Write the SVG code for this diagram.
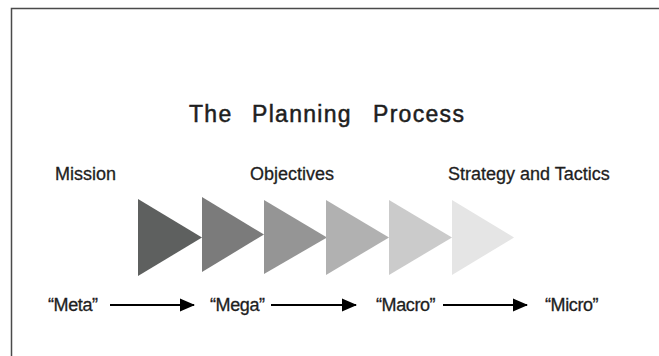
<svg xmlns="http://www.w3.org/2000/svg" width="659" height="356" viewBox="0 0 659 356">
<style>
.t{font-family:"Liberation Sans",Arial,sans-serif;fill:#1e1e1e;stroke:#1e1e1e;stroke-width:0.3}
.title{font-size:23px;letter-spacing:1.3px;stroke-width:0.5}
.lbl{font-size:18px}
.q{font-size:18px;letter-spacing:-0.4px}
.arr{stroke:#000;stroke-width:2.2;fill:none;marker-end:url(#ah)}
</style>
<defs>
<marker id="ah" markerWidth="7" markerHeight="6" refX="6.5" refY="3" orient="auto" markerUnits="strokeWidth">
<path d="M0,0 L7,3 L0,6 Z" fill="#000"/>
</marker>
</defs>
<rect width="659" height="356" fill="#fff"/>
<path d="M11.5,356 V8.5 H659" fill="none" stroke="#4a4a4a" stroke-width="1.5"/>
<g id="title"><text class="t title" y="122"><tspan x="189">The</tspan><tspan x="252">Planning</tspan><tspan x="373">Process</tspan></text></g>
<g id="mission"><text class="t lbl" x="55" y="180">Mission</text></g>
<g id="objectives"><text class="t lbl" x="250" y="180">Objectives</text></g>
<g id="strategy"><text class="t lbl" x="448" y="180">Strategy and Tactics</text></g>
<g id="stages">
<polygon points="138,199 202,237.5 138,276" fill="#5e605f"/>
<polygon points="202,197 264,234.5 202,272" fill="#7b7b7b"/>
<polygon points="264,200 327,237.5 264,274" fill="#959595"/>
<polygon points="326,200 389,237.5 326,275" fill="#b1b1b1"/>
<polygon points="389,200 452,237.5 389,275" fill="#cbcbcb"/>
<polygon points="452,200 514,237.5 452,275" fill="#e5e5e5"/>
</g>
<g id="meta"><text class="t q" x="48" y="311">“Meta”</text></g>
<g id="mega"><text class="t q" x="210" y="311">“Mega”</text></g>
<g id="macro"><text class="t q" x="376" y="311">“Macro”</text></g>
<g id="micro"><text class="t q" x="545" y="311">“Micro”</text></g>
<g id="connectors">
<line class="arr" x1="110" y1="305" x2="194" y2="305"/>
<line class="arr" x1="271" y1="305" x2="356" y2="305"/>
<line class="arr" x1="443" y1="305" x2="527" y2="305"/>
</g>
</svg>
